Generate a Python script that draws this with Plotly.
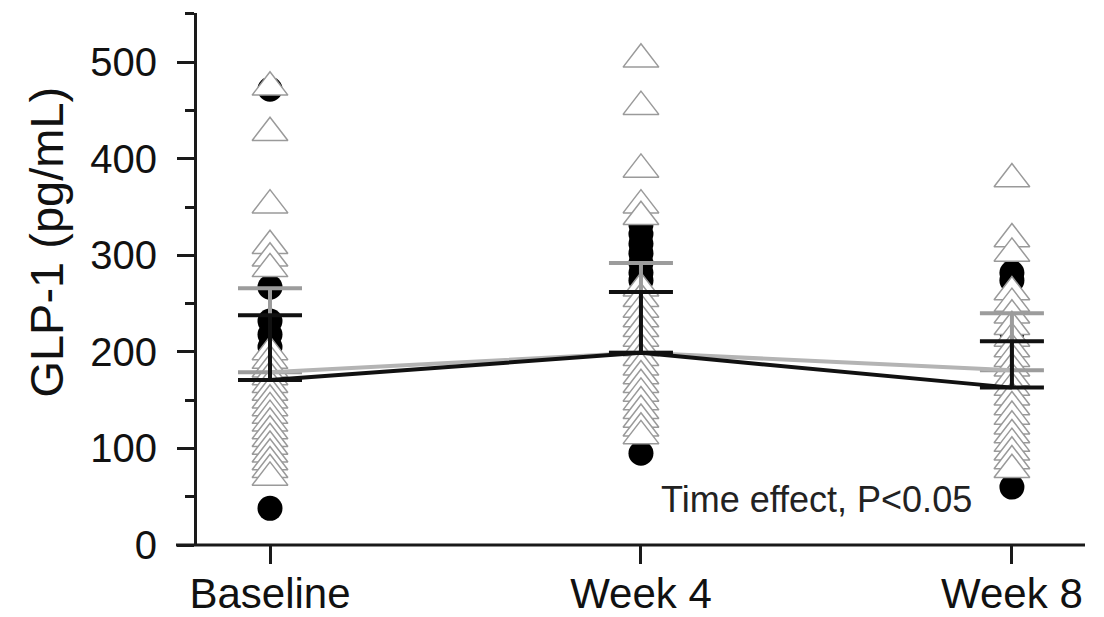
import plotly.graph_objects as go

# ---- data ----
categories = ["Baseline", "Week 4", "Week 8"]
cat_pos = [0, 1, 2]

# individual values, filled black circles (group A)
circ_baseline = [472, 267, 232, 218, 205, 150, 128, 108, 85, 38]
circ_week4 = [332, 322, 312, 302, 292, 282, 274, 240, 200, 160, 130, 95]
circ_week8 = [282, 274, 245, 220, 180, 150, 116, 91, 60]

# individual values, open triangles (group B)
tri_baseline = [474, 427, 352, 310, 297, 286, 200, 191, 182, 174, 166, 158,
                150, 142, 134, 126, 118, 110, 102, 94, 86, 78, 70]
tri_week4 = [503, 454, 389, 352, 340, 266, 255, 244, 234, 224, 214, 204, 194,
             184, 175, 166, 157, 148, 139, 130, 121, 113]
tri_week8 = [379, 317, 302, 262, 250, 238, 226, 214, 203, 193, 183,
             173, 163, 153, 143, 133, 123, 114, 105, 96, 87, 78]

# group means and SD (upper error bars)
mean_circ = [171, 199, 163]
sd_circ = [67, 63, 48]
mean_tri = [179, 199, 181]
sd_tri = [87, 93, 59]

y_ticks = [0, 100, 200, 300, 400, 500]

FONT = "Liberation Sans, Arial, sans-serif"
AX = "#1a1a1a"

fig = go.Figure()

def xs(i, vals):
    return [cat_pos[i]] * len(vals)

circ_all = [circ_baseline, circ_week4, circ_week8]
tri_all = [tri_baseline, tri_week4, tri_week8]

cx, cy, tx, ty = [], [], [], []
for i in range(3):
    cx += xs(i, circ_all[i]); cy += circ_all[i]
    tx += xs(i, tri_all[i]); ty += tri_all[i]

fig.add_trace(go.Scatter(
    x=cx, y=cy, mode="markers",
    marker=dict(symbol="circle", size=25, color="#000000", line=dict(width=0)),
    showlegend=False, cliponaxis=False))

fig.add_trace(go.Scatter(
    x=tx, y=ty, mode="markers",
    marker=dict(symbol="triangle-up", size=31, color="#ffffff",
                line=dict(width=1.5, color="#9a9a9a")),
    showlegend=False, cliponaxis=False))

fig.add_trace(go.Scatter(
    x=cat_pos, y=mean_tri, mode="lines",
    line=dict(color="#b4b4b4", width=4),
    error_y=dict(type="data", array=sd_tri, arrayminus=[0, 0, 0], symmetric=False,
                 color="#9c9c9c", thickness=4, width=32),
    showlegend=False))

fig.add_trace(go.Scatter(
    x=cat_pos, y=mean_circ, mode="lines",
    line=dict(color="#111111", width=4),
    error_y=dict(type="data", array=sd_circ, arrayminus=[0, 0, 0], symmetric=False,
                 color="#111111", thickness=4, width=32),
    showlegend=False))

fig.add_annotation(
    x=1.474, y=47, xref="x", yref="y", text="Time effect, P<0.05",
    showarrow=False, xanchor="center", yanchor="middle",
    font=dict(family=FONT, size=36, color="#222222"))

fig.add_annotation(
    x=-0.1435, y=0.5695, xref="paper", yref="paper", text="GLP-1 (pg/mL)",
    textangle=-90, showarrow=False, xanchor="center", yanchor="middle",
    font=dict(family=FONT, size=47, color="#111111"))

# x-axis base line spanning the full plot width (extends left of the y axis)
fig.add_shape(type="line", xref="paper", yref="paper", x0=0, x1=1, y0=0, y1=0,
              line=dict(color=AX, width=3), layer="above")

fig.update_layout(
    width=1104, height=617,
    margin=dict(l=168, r=27, t=5, b=80),
    paper_bgcolor="white", plot_bgcolor="white",
    font=dict(family=FONT, color="#111111"),
    xaxis=dict(
        range=[-0.2534, 2.197], tickvals=cat_pos, ticktext=categories,
        automargin=False,
        showgrid=False, zeroline=False, showline=False,
        ticks="outside", ticklen=18, tickwidth=3, tickcolor=AX,
        ticklabelstandoff=-6,
        tickfont=dict(family=FONT, size=42, color="#111111")),
    yaxis=dict(
        range=[0, 551], tickvals=y_ticks, anchor="free", position=19 / 909,
        automargin=False,
        showgrid=False, zeroline=False, showline=True, linecolor=AX, linewidth=3,
        ticks="outside", ticklen=17, tickwidth=3, tickcolor=AX,
        ticklabelstandoff=12,
        minor=dict(dtick=50, tick0=0, ticks="outside", ticklen=9, tickwidth=3,
                   tickcolor=AX, showgrid=False),
        tickfont=dict(family=FONT, size=40, color="#111111")),
)

fig.write_html("out.html")
